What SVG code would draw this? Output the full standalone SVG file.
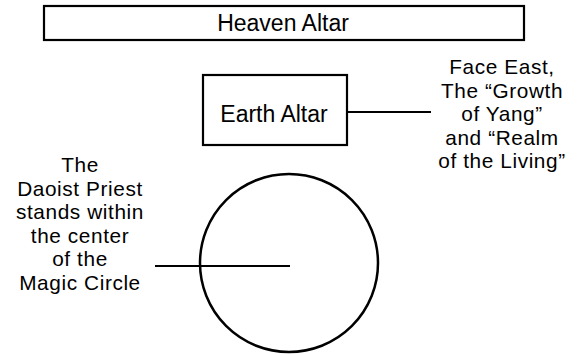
<svg xmlns="http://www.w3.org/2000/svg" width="583" height="354" viewBox="0 0 583 354">
<style>
.box{fill:#fff;stroke:#000;stroke-width:2.2}
.ln{stroke:#000;stroke-width:2;fill:none}
text{font-family:"Liberation Sans",Arial,sans-serif;font-size:23px;fill:#000;text-anchor:middle}
.lbl{font-size:20.8px;letter-spacing:0.6px}
</style>
<rect width="583" height="354" fill="#fff"/>
<g id="connectors">
<line class="ln" x1="347" y1="112" x2="431" y2="112"/>
<line class="ln" x1="155" y1="266" x2="290" y2="266"/>
</g>
<g id="heaven-altar">
<rect class="box" x="44" y="6" width="480" height="34"/>
<text x="283" y="31">Heaven Altar</text>
</g>
<g id="earth-altar">
<rect class="box" x="203" y="75" width="144" height="70"/>
<text x="274" y="122">Earth Altar</text>
</g>
<g id="magic-circle">
<circle cx="289" cy="263" r="89" fill="none" stroke="#000" stroke-width="2.5"/>
</g>
<g id="east-label">
<text class="lbl" x="502" y="74">Face East,</text>
<text class="lbl" x="502" y="97.5">The “Growth</text>
<text class="lbl" x="502" y="121">of Yang”</text>
<text class="lbl" x="502" y="144.5">and “Realm</text>
<text class="lbl" x="502" y="168">of the Living”</text>
</g>
<g id="priest-label">
<text class="lbl" x="80" y="172">The</text>
<text class="lbl" x="80" y="195.5">Daoist Priest</text>
<text class="lbl" x="80" y="219">stands within</text>
<text class="lbl" x="80" y="242.5">the center</text>
<text class="lbl" x="80" y="266">of the</text>
<text class="lbl" x="80" y="289.5">Magic Circle</text>
</g>
</svg>
